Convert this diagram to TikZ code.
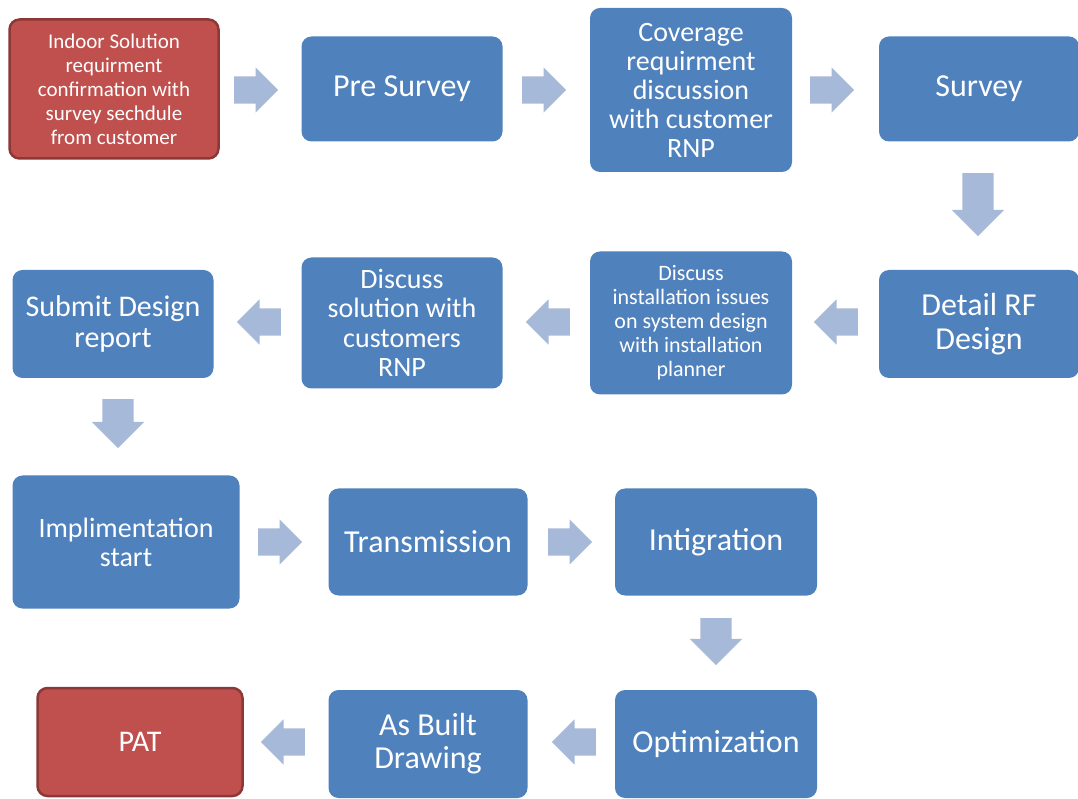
\documentclass[tikz,border=0pt]{standalone}
\usepackage{fontspec}
\setmainfont{Carlito}
\usepackage{xcolor}
\usetikzlibrary{shapes,arrows,positioning}

\definecolor{boxblue}{RGB}{79,129,189}
\definecolor{boxred}{RGB}{192,80,77}
\definecolor{redline}{RGB}{140,56,54}
\definecolor{arrowblue}{RGB}{167,185,216}

\begin{document}
\begin{tikzpicture}[x=1pt, y=1pt,
  bluebox/.style={rectangle, rounded corners=10pt, fill=boxblue, text=white, align=center, inner sep=2pt},
  redbox/.style={rectangle, rounded corners=10pt, draw=redline, line width=2.5pt, fill=boxred, text=white, align=center, inner sep=2pt},
  flowarrow/.style={single arrow, fill=arrowblue, draw=none, anchor=tail, inner xsep=0pt, inner ysep=13.5pt, single arrow head extend=9pt, minimum height=44pt, minimum width=45pt},
  bigarrow/.style={flowarrow, inner ysep=15.5pt, single arrow head extend=10.5pt, minimum width=52pt}
]
\useasboundingbox (0,0) rectangle (1078,798);

% first row
\node (start) at (114,709) [redbox, minimum width=209pt, minimum height=139pt, font=\fontsize{21}{24}\selectfont] {Indoor Solution\\requirment\\confirmation with\\survey sechdule\\from customer};
\node (pre) at (402,709) [bluebox, minimum width=201pt, minimum height=105pt, font=\fontsize{32}{34}\selectfont] {Pre Survey};
\node (cover) at (691,708) [bluebox, minimum width=202pt, minimum height=164pt, font=\fontsize{28}{29}\selectfont] {Coverage\\requirment\\discussion\\with customer\\RNP};
\node (survey) at (979,709) [bluebox, minimum width=200pt, minimum height=105pt, font=\fontsize{32}{34}\selectfont] {Survey};

% second row
\node (detail) at (979,474) [bluebox, minimum width=200pt, minimum height=108pt, font=\fontsize{32}{34}\selectfont] {Detail RF\\Design};
\node (install) at (691,475) [bluebox, minimum width=202pt, minimum height=143pt, font=\fontsize{22}{24}\selectfont] {Discuss\\installation issues\\on system design\\with installation\\planner};
\node (solution) at (402,475) [bluebox, minimum width=201pt, minimum height=131pt, font=\fontsize{28}{29.5}\selectfont] {Discuss\\solution with\\customers\\RNP};
\node (submit) at (113,474) [bluebox, minimum width=201pt, minimum height=108pt, font=\fontsize{30}{31}\selectfont] {Submit Design\\report};

% third row
\node (impl) at (126,256) [bluebox, minimum width=227pt, minimum height=133pt, font=\fontsize{28}{29}\selectfont] {Implimentation\\start};
\node (trans) at (428,256) [bluebox, minimum width=199pt, minimum height=107pt, font=\fontsize{32}{34}\selectfont] {Transmission};
\node (integ) at (716,256) [bluebox, minimum width=202pt, minimum height=107pt, font=\fontsize{32}{34}\selectfont] {Intigration};

% last row
\node (optim) at (716,54) [bluebox, minimum width=202pt, minimum height=108pt, font=\fontsize{32}{34}\selectfont] {Optimization};
\node (asbuilt) at (428,54) [bluebox, minimum width=199pt, minimum height=108pt, font=\fontsize{32}{33}\selectfont] {As Built\\Drawing};
\node (pat) at (140,56) [redbox, minimum width=205pt, minimum height=108pt, font=\fontsize{30}{32}\selectfont] {PAT};

% block arrows between the steps (placed by their tails)
\node (a1) at (234,708) [flowarrow] {};
\node (a2) at (522,708) [flowarrow] {};
\node (a3) at (810,708) [flowarrow] {};
\node (a4) at (978,625) [bigarrow, minimum height=63pt, rotate=-90] {};
\node (a5) at (858,476) [flowarrow, rotate=180] {};
\node (a6) at (570,476) [flowarrow, rotate=180] {};
\node (a7) at (281,476) [flowarrow, rotate=180] {};
\node (a8) at (118,399) [bigarrow, minimum height=49pt, rotate=-90] {};
\node (a9) at (258,256) [flowarrow] {};
\node (a10) at (548,256) [flowarrow] {};
\node (a11) at (716,180) [bigarrow, minimum height=47pt, rotate=-90] {};
\node (a12) at (596,56) [flowarrow, rotate=180] {};
\node (a13) at (305,56) [flowarrow, rotate=180] {};
\end{tikzpicture}
\end{document}
